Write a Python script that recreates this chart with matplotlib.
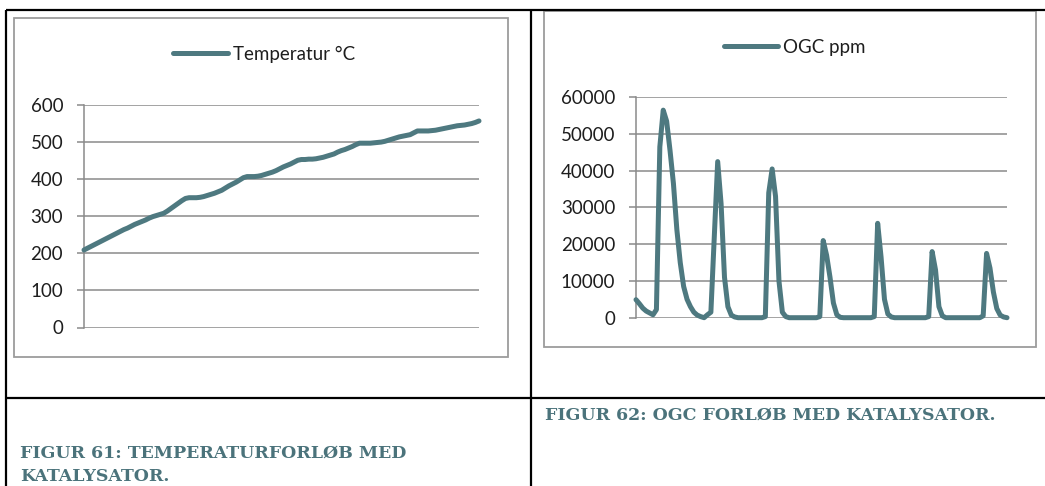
import matplotlib
matplotlib.use("Agg")
import matplotlib.pyplot as plt
from matplotlib.lines import Line2D
from matplotlib.patches import Rectangle

# Measurement series (one reading per logged sample)
temperature = [
    209, 214, 219, 224, 229, 234, 239, 244, 249, 254,
    259, 264, 268, 273, 278, 282, 286, 290, 295, 299,
    302, 305, 308, 314, 321, 328, 335, 342, 348, 350,
    350, 350, 351, 353, 356, 359, 362, 366, 370, 376,
    382, 387, 392, 398, 404, 407, 407, 407, 408, 410,
    413, 416, 419, 423, 428, 433, 437, 441, 446, 451,
    453, 453, 454, 454, 455, 457, 459, 462, 465, 468,
    473, 477, 480, 484, 488, 493, 497, 497, 497, 497,
    498, 499, 500, 502, 505, 508, 511, 514, 516, 518,
    520, 525, 530, 530, 530, 530, 531, 532, 534, 536,
    538, 540, 542, 544, 545, 546, 548, 550, 553, 557,
]

ogc = [
    4900, 3800, 2600, 1800, 1300, 800, 2200, 46500, 56500, 53500,
    45500, 36500, 24000, 15000, 8500, 5000, 3000, 1500, 700, 300,
    0, 800, 1500, 22000, 42500, 31000, 11000, 3000, 700, 200,
    0, 0, 0, 0, 0, 0, 0, 0, 300, 34000,
    40500, 33000, 10000, 1500, 300, 0, 0, 0, 0, 0,
    0, 0, 0, 0, 300, 21000, 17000, 11000, 4000, 800,
    100, 0, 0, 0, 0, 0, 0, 0, 0, 0,
    300, 25700, 16500, 5000, 1000, 200, 0, 0, 0, 0,
    0, 0, 0, 0, 0, 0, 300, 18000, 13000, 3000,
    500, 0, 0, 0, 0, 0, 0, 0, 0, 0,
    0, 0, 500, 17500, 13500, 7000, 2500, 700, 200, 0,
]

temp_ticks = [0, 100, 200, 300, 400, 500, 600]
ogc_ticks = [0, 10000, 20000, 30000, 40000, 50000, 60000]

temp_label = "Temperatur °C"
ogc_label = "OGC ppm"

caption_61 = ["FIGUR 61: TEMPERATURFORLØB MED", "KATALYSATOR."]
caption_62 = "FIGUR 62: OGC FORLØB MED KATALYSATOR."

W, H = 1045, 486
LINE = "#4E7980"
GRID = "#8A8A8A"
FRAME = "#9C9C9C"
CAPTION = "#4B737B"
TEXT = "#1E1E1E"

fig = plt.figure(figsize=(W / 100, H / 100), dpi=100)


def fx(x):
    return x / W


def fy(y):
    return 1 - y / H


def frame(x0, y0, x1, y1, color, lw):
    fig.add_artist(Rectangle((fx(x0), fy(y1)), fx(x1) - fx(x0), fy(y0) - fy(y1),
                             transform=fig.transFigure, fill=False,
                             edgecolor=color, linewidth=lw))


def rule(x0, y0, x1, y1, color="black", lw=1.6):
    fig.add_artist(Line2D([fx(x0), fx(x1)], [fy(y0), fy(y1)],
                          transform=fig.transFigure, color=color, linewidth=lw,
                          solid_capstyle="butt"))


# table rules around the two figure cells
rule(6, 10, 6, H)
rule(6, 10, W, 10)
rule(531, 10, 531, H)
rule(6, 398, W, 398)

# chart area frames
frame(14, 18, 508, 357, FRAME, 1.3)
frame(544, 11, 1036, 347, FRAME, 1.3)


def line_panel(x0, y0, x1, y1, values, ticks, label, legend_center):
    ax = fig.add_axes([fx(x0), fy(y1), fx(x1) - fx(x0), fy(y0) - fy(y1)])
    ax.set_facecolor("none")
    n = len(values)
    ax.plot(range(n), values, color=LINE, linewidth=3.6,
            solid_capstyle="round", solid_joinstyle="round",
            clip_on=False, zorder=3, label=label)
    ax.set_xlim(0, n - 1)
    ax.set_ylim(ticks[0], ticks[-1])
    ax.set_yticks(ticks)
    ax.set_yticklabels([str(t) for t in ticks])
    ax.set_xticks([])
    for side in ("top", "right", "bottom"):
        ax.spines[side].set_visible(False)
    ax.spines["left"].set_color(GRID)
    ax.spines["left"].set_linewidth(1.1)
    ax.tick_params(axis="y", length=5, width=1.1, color=GRID, pad=10,
                   labelsize=13.5, labelcolor=TEXT)
    for lbl in ax.get_yticklabels():
        lbl.set_fontfamily("Lato")
    ax.yaxis.grid(True, color=GRID, linewidth=1.1)
    ax.set_axisbelow(True)
    leg = ax.legend(loc="center", bbox_to_anchor=(fx(legend_center[0]), fy(legend_center[1])),
                    bbox_transform=fig.transFigure, frameon=False,
                    handlelength=2.9, handletextpad=0.27, borderpad=0,
                    prop={"family": "Lato", "size": 13.5})
    for t in leg.get_texts():
        t.set_color(TEXT)
    return ax


line_panel(84, 105, 479, 327.5, temperature, temp_ticks, temp_label, (264, 54))
line_panel(636, 97.3, 1007, 317.7, ogc, ogc_ticks, ogc_label, (795, 47))

cap_font = dict(family="DejaVu Serif", weight="bold", size=12.5, color=CAPTION)
fig.text(fx(545), fy(415), caption_62, va="center", ha="left", **cap_font)
fig.text(fx(20), fy(453), caption_61[0], va="center", ha="left", **cap_font)
fig.text(fx(20), fy(476), caption_61[1], va="center", ha="left", **cap_font)

fig.savefig("out.png", dpi=100)
